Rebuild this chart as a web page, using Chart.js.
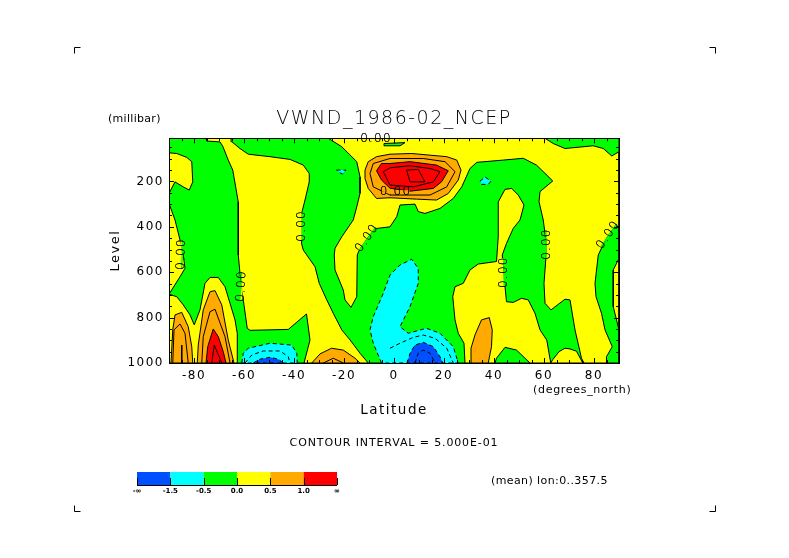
<!DOCTYPE html>
<html><head><meta charset="utf-8">
<style>html,body{margin:0;padding:0;background:#fff}canvas{display:block}</style>
<script src="https://cdn.jsdelivr.net/npm/chart.js@4/dist/chart.umd.js"></script>
</head><body><canvas id="c" width="789" height="558"></canvas>
<script>
const latTicks=[-80,-60,-40,-20,0,20,40,60,80];
const levelTicks=[200,400,600,800,1000];
const barLabels=['-∞','-1.5','-0.5','0.0','0.5','1.0','∞'];
const BLUE='#0050ff',CYAN='#00ffff',GREEN='#00ff00',YELLOW='#ffff00',ORANGE='#ffaa00',RED='#ff0000';
const barColors=[BLUE,CYAN,GREEN,YELLOW,ORANGE,RED];
const FONT='"DejaVu Sans"',LIGHT='"DejaVu Sans Light","DejaVu Sans"';

const yellowBase=[[-90,10],[90,10],[90,1000],[-90,1000]];
const greenWest=[[-90,10],[-75.2,10],[-74.9,22],[-69.6,26],[-68.5,45],[-66.3,106],[-64.5,150],[-62.3,290],[-62.3,524],[-61.6,605],[-61.2,649],[-60.3,722],[-58.7,847],[-57.6,856],[-42.3,852],[-35,784],[-33.6,899],[-36,1000],[-62.7,1000],[-62.7,869],[-63.6,810],[-65.6,737],[-67.6,664],[-70.3,623],[-73.6,623],[-75.6,649],[-77.6,766],[-79.9,832],[-81.6,788],[-84.3,744],[-86.9,708],[-90,697],[-85.6,620],[-83.6,583],[-84.3,524],[-85.6,458],[-87.6,370],[-90,297],[-90,253],[-87.6,202],[-84.3,224],[-81.9,238],[-80.5,202],[-80.9,113],[-82.9,94],[-86.9,77],[-90,74]];
const greenCentral=[[-65.2,10],[-26.3,10],[-20.9,47],[-14.9,113],[-13.6,180],[-13.6,253],[-14.9,312],[-16.3,370],[-20.9,444],[-23.6,495],[-23.9,524],[-23.6,590],[-20.3,678],[-19.6,722],[-17.2,755],[-14.9,708],[-14.7,524],[-13.6,495],[-10.8,450],[-7.5,408],[-1.6,400],[1.1,355],[2.4,304],[8.4,300],[9.7,333],[12.4,341],[18.4,319],[23.7,275],[27.1,224],[30.4,143],[33.1,116],[43.7,106],[51.7,98],[57,128],[63.5,198],[58.4,245],[58,289],[59.7,370],[61.1,488],[60,649],[60.4,737],[62.8,766],[68.4,719],[70.4,722],[72.4,854],[75,979],[76,1000],[-10.3,1000],[-13.6,957],[-17.6,898],[-20.9,854],[-24.3,781],[-26.9,722],[-29.9,649],[-31.6,576],[-36.3,502],[-37,473],[-37,400],[-36.9,341],[-35.6,282],[-33.9,202],[-33.9,165],[-36.3,128],[-41.6,103],[-49.6,91],[-58.3,80],[-61.6,55],[-64.9,25]];
const yellowInner=[[44.4,235],[47.1,231],[49.7,260],[52,304],[50.4,370],[47.7,407],[45,473],[43.3,524],[44.4,664],[45,730],[47.7,733],[51,715],[53.7,722],[56.4,781],[58.4,854],[61.1,899],[62.7,1000],[28.4,1000],[28,913],[25.7,869],[24.4,810],[23.5,708],[24.4,664],[27.7,649],[30.4,590],[33.7,564],[41,553],[41.7,444],[41.7,290]];
const yellowHump=[[62.7,1000],[63.5,985],[66,950],[68.4,935],[70.4,938],[73,948],[75.5,1000]];
const greenHump=[[40.4,1000],[41,979],[44.4,931],[49,943],[54.4,1000]];
const greenTopRight=[[60.4,10],[63.7,33],[68.4,55],[79.7,43],[83.7,55],[87.1,88],[90,69],[90,10]];
const greenTopMid=[[-4,33],[4.4,29],[2.4,43],[-4,43]];
const greenEast=[[88,393],[90,400],[90,539],[87.7,590],[87.7,752],[90,854],[90,1000],[84.8,1000],[85,972],[87.3,928],[84.4,854],[83,781],[80.8,708],[80.4,649],[81.7,524],[83.7,478],[85.7,436]];
const orangeEast=[[30.8,1000],[30.8,935],[32.4,876],[35,810],[38.1,800],[39.3,854],[39,928],[37.7,1000]];
const cyanCentre=[[-5,1000],[-8.3,913],[-9.6,854],[-8.3,796],[-4.3,693],[-1.6,612],[2.4,568],[7.1,543],[9.7,583],[9.7,649],[6.4,752],[2.4,840],[5.7,869],[13,847],[18.4,869],[23.7,928],[25.7,1000]];
const blueCentre=[[5.3,1000],[6.4,957],[8.4,921],[11.7,909],[15.7,928],[18.4,972],[19.5,1000]];
const cyanWest=[[-60.9,1000],[-60.3,957],[-58.3,935],[-49.6,913],[-40.9,921],[-38.9,957],[-38.7,1000]];
const blueWest=[[-56.3,1000],[-53.6,983],[-49.6,975],[-46.3,983],[-44.3,1000]];
const orangeFarWest=[[-89.2,1000],[-88.5,854],[-87.6,788],[-84.9,777],[-82.3,840],[-80.9,928],[-80.5,1000]];
const orangeWest=[[-78.7,1000],[-78.3,921],[-76.3,766],[-73.6,686],[-71.6,681],[-68.9,744],[-66.3,899],[-64,1000]];
const redWest=[[-75.2,1000],[-74.5,928],[-72.3,850],[-70.3,884],[-68.3,950],[-67.2,1000]];
const orangeMid=[[-32.9,1000],[-29.6,960],[-25,935],[-20.3,943],[-15.6,979],[-13.6,1000]];
const orangeJet=[[-11.6,150],[-10.3,113],[-7,91],[-1.6,80],[7.1,77],[21.1,91],[25.1,106],[26.8,150],[25.7,194],[21.7,253],[17,282],[9,278],[-1.6,272],[-7,275],[-10.3,231],[-11.6,187]];
const redJet=[[-7,153],[-5,121],[-1.6,121],[6.4,113],[17,128],[21.7,153],[19,202],[15.7,231],[6.4,243],[-1.6,230],[-5,194]];
const cyanSmallA=[[-23,150],[-19.2,150],[-20.6,168],[-21.6,162]];
const cyanSmallB=[[34.4,199],[36.4,180],[38.8,199],[37.7,213],[35,213]];

const ringJetOuter=[[-9.6,165],[-8.3,121],[-1.6,99],[11.7,99],[20.4,113],[24.4,157],[21.1,224],[14.4,260],[5,260],[-1.6,260],[-8.3,224],[-9.6,165]];
const ringJetA=[[-4.3,157],[-1.6,140],[6.4,131],[14.4,143],[18.4,157],[15.7,202],[7.7,224],[-1.6,216],[-4.3,157]];
const ringJetB=[[5,150],[9.7,147],[12.4,202],[6.4,202],[5,150]];
const ringFarWest=[[-88.5,1000],[-88,854],[-85.6,828],[-83.6,869],[-82.3,1000]];
const spikeFarWest=[[-84.9,921],[-84.9,1000]];
const ringWest=[[-76.9,1000],[-76.3,884],[-73.6,774],[-71.6,763],[-67.6,884],[-65.6,1000]];
const ringRedWest=[[-72.9,1000],[-71.9,921],[-68.9,1000]];
const ringMid=[[-28.3,1000],[-24.3,979],[-20.3,1000]];
const dashWest=[[-59.6,1000],[-56.9,965],[-52.3,947],[-45.6,947],[-42.3,972],[-41.6,1000]];
const dashCentre=[[-1.6,935],[2.4,913],[7.7,887],[11.7,877],[16.4,891],[21.1,935],[23.7,1000]];
const dashBlue=[[8.4,1000],[9.7,957],[11.7,943],[14.4,957],[16.4,1000]];

const contourLabels=[[-7.2,12,0,null,null],[0.6,245,0,ORANGE,ORANGE],[-36.9,396,-90,YELLOW,GREEN],[-85,520,-88,YELLOW,GREEN],[-10.8,450,-55,YELLOW,GREEN],[-61,661,-86,GREEN,YELLOW],[43.8,600,-90,YELLOW,GREEN],[61.1,476,-90,GREEN,YELLOW],[85.7,436,-55,YELLOW,GREEN]];

function poly(points,color,dash){
  const pts=points.concat([points[0]]).map(p=>({x:p[0],y:p[1]}));
  return {data:pts,showLine:true,pointRadius:0,tension:0,borderColor:'#000',borderWidth:1,borderDash:dash||[],backgroundColor:color,fill:'shape'};
}
function line(points,dash){
  return {data:points.map(p=>({x:p[0],y:p[1]})),showLine:true,pointRadius:0,tension:0,borderColor:'#000',borderWidth:1,borderDash:dash||[],fill:false};
}
const D=[4,3];
const datasets=[
 poly(yellowBase,YELLOW),poly(greenWest,GREEN),poly(greenCentral,GREEN),poly(yellowInner,YELLOW),poly(yellowHump,YELLOW),poly(greenHump,GREEN),
 poly(greenTopRight,GREEN),poly(greenTopMid,GREEN),poly(greenEast,GREEN),poly(orangeEast,ORANGE),
 poly(cyanCentre,CYAN,D),poly(blueCentre,BLUE,D),poly(cyanWest,CYAN,D),poly(blueWest,BLUE,D),
 poly(orangeFarWest,ORANGE),poly(orangeWest,ORANGE),poly(redWest,RED),poly(orangeMid,ORANGE),
 poly(orangeJet,ORANGE),poly(redJet,RED),poly(cyanSmallA,CYAN,D),poly(cyanSmallB,CYAN,D),
 line(ringJetOuter),line(ringJetA),line(ringJetB),line(ringFarWest),line(spikeFarWest),line(ringWest),line(ringRedWest),line(ringMid),
 line(dashWest,D),line(dashCentre,D),line(dashBlue,D)
];
datasets.forEach((d,i)=>d.order=-i);

function txt(ctx,s,x,y,font,align,spacing){
  ctx.save();ctx.font=font;ctx.textAlign=align||'left';ctx.textBaseline='middle';ctx.fillStyle='#000';
  ctx.letterSpacing=(spacing||0)+'px';ctx.fillText(s,x,y);ctx.restore();
}
const furniture={id:'furniture',
 beforeDraw(ch){ch.ctx.letterSpacing='1.5px';},
 afterDraw(ch){
  const ctx=ch.ctx,a=ch.chartArea,X=ch.scales.x,Y=ch.scales.y;
  ctx.save();ctx.letterSpacing='0px';ctx.strokeStyle='#000';ctx.lineWidth=1;
  contourLabels.forEach(l=>{ if(!l[3])return;
    ctx.save();ctx.translate(X.getPixelForValue(l[0]),Y.getPixelForValue(l[1]));ctx.rotate(l[2]*Math.PI/180);
    ctx.fillStyle=l[3];ctx.fillRect(-14,-1.5,28,1.5);ctx.fillStyle=l[4];ctx.fillRect(-14,0,28,1.5);ctx.restore();});
  ctx.beginPath();
  for(let v=-90;v<=90;v+=5){const l=v%20===0?5:3,px=Math.round(X.getPixelForValue(v))+.5;
    ctx.moveTo(px,a.top);ctx.lineTo(px,a.top+l);ctx.moveTo(px,a.bottom);ctx.lineTo(px,a.bottom-l);}
  for(let v=50;v<=1000;v+=50){const l=v%200===0?5:3,py=Math.round(Y.getPixelForValue(v))+.5;
    ctx.moveTo(a.left,py);ctx.lineTo(a.left+l,py);ctx.moveTo(a.right,py);ctx.lineTo(a.right-l,py);}
  ctx.stroke();
  ctx.strokeRect(Math.round(a.left)+.5,Math.round(a.top)+.5,Math.round(a.right-a.left),Math.round(a.bottom-a.top));
  ctx.beginPath();
  [[74,47,1,1],[715,47,-1,1],[74,511,1,-1],[715,511,-1,-1]].forEach(c=>{
    ctx.moveTo(c[0]+.5,c[1]+6*c[3]+.5);ctx.lineTo(c[0]+.5,c[1]+.5);ctx.lineTo(c[0]+6*c[2]+.5,c[1]+.5);});
  ctx.stroke();
  const bx=137,bw=200/6;
  barColors.forEach((col,i)=>{ctx.fillStyle=col;ctx.fillRect(bx+i*bw,472,bw,13);});
  ctx.beginPath();ctx.moveTo(bx,485.5);ctx.lineTo(bx+200,485.5);
  barLabels.forEach((s,i)=>{const px=Math.round(bx+i*bw)+.5;ctx.moveTo(px,478);ctx.lineTo(px,485);});
  ctx.stroke();ctx.restore();
  barLabels.forEach((s,i)=>txt(ctx,s,bx+i*bw,491,'bold 7px '+FONT,'center',0));
  contourLabels.forEach(l=>{
    ctx.save();ctx.translate(X.getPixelForValue(l[0]),Y.getPixelForValue(l[1]));ctx.rotate(l[2]*Math.PI/180);
    txt(ctx,'0.00',0,0,'12px '+LIGHT,'center',1.2);txt(ctx,'0.00',0,0,'12px '+LIGHT,'center',1.2);ctx.restore();});
  txt(ctx,'(millibar)',108,119,'11px '+FONT,'left',.3);
  txt(ctx,'(degrees_north)',533,390,'11px '+FONT,'left',.7);
  txt(ctx,'CONTOUR INTERVAL = 5.000E-01',394,443,'11px '+FONT,'center',.87);
  txt(ctx,'(mean) lon:0..357.5',491,481,'11px '+FONT,'left',.4);
 }};
new Chart(document.getElementById('c'),{type:'scatter',data:{datasets},plugins:[furniture],options:{
 responsive:false,animation:false,devicePixelRatio:1,
 layout:{padding:{top:107.6,left:0,right:170,bottom:0}},
 plugins:{legend:{display:false},tooltip:{enabled:false},
  title:{display:true,fullSize:false,text:'VWND_1986-02_NCEP',color:'#000',font:{family:LIGHT,size:19,weight:'normal',lineHeight:1.2},padding:{top:0,bottom:7.9}}},
 scales:{
  x:{type:'linear',min:-90,max:90,grid:{display:false,drawTicks:false},border:{display:false},
   afterBuildTicks(s){s.ticks=latTicks.map(v=>({value:v}));},
   afterFit(s){s.height=195;},
   ticks:{autoSkip:false,maxRotation:0,color:'#000',padding:6,font:{family:FONT,size:12},callback:v=>String(v)},
   title:{display:true,text:'Latitude',color:'#000',font:{family:FONT,size:13.5,lineHeight:1.2},padding:{top:0,bottom:139}}},
  y:{type:'linear',reverse:true,min:10,max:1000,grid:{display:false,drawTicks:false},border:{display:false},
   afterBuildTicks(s){s.ticks=levelTicks.map(v=>({value:v}));},
   afterFit(s){s.width=169;},
   ticks:{autoSkip:false,color:'#000',padding:5,font:{family:FONT,size:12},callback:v=>String(v)},
   title:{display:true,text:'Level',color:'#000',font:{family:FONT,size:13,lineHeight:1.2},padding:{top:108,bottom:0}}}
 }}});
</script></body></html>
